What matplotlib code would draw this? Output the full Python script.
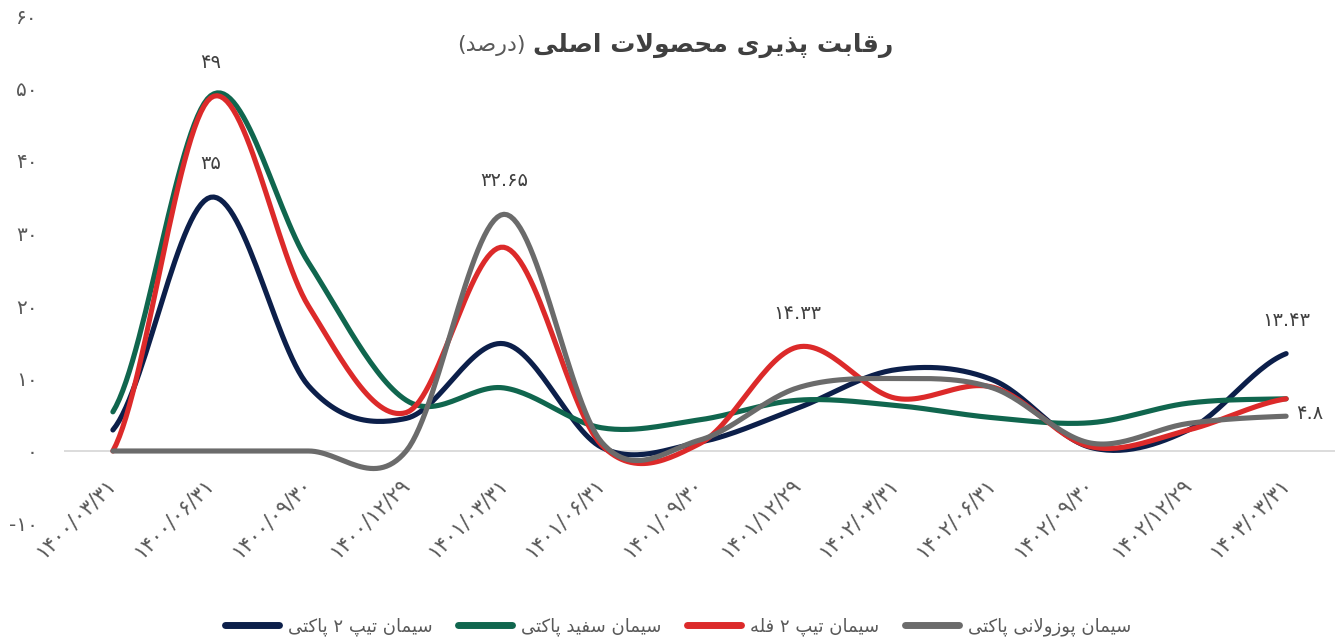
import numpy as np
import matplotlib.pyplot as plt

# chart data
dates = ['1400/03/31', '1400/06/31', '1400/09/30', '1400/12/29',
         '1401/03/31', '1401/06/31', '1401/09/30', '1401/12/29',
         '1402/03/31', '1402/06/31', '1402/09/30', '1402/12/29', '1403/03/31']

type2_pack = [2.9, 35, 9.0, 4.5, 14.8, 0.5, 1.2, 5.9, 11.2, 9.8, 0.5, 2.9, 13.43]
white_pack = [5.4, 49, 26.0, 7.0, 8.7, 3.2, 4.3, 7.0, 6.3, 4.6, 3.9, 6.6, 7.2]
type2_bulk = [0, 48.7, 20.0, 5.3, 28.1, 0.8, 1.0, 14.33, 7.3, 8.8, 0.6, 2.9, 7.2]
pozz_pack = [0, 0, 0, 0, 32.65, 1.2, 1.5, 8.7, 10.0, 8.7, 1.1, 3.8, 4.8]

names = ['سیمان تیپ ۲ پاکتی', 'سیمان سفید پاکتی', 'سیمان تیپ ۲ فله', 'سیمان پوزولانی پاکتی']
colors = ['#0c1f4a', '#10664e', '#dc2a2a', '#6b6b6b']
title_main = 'رقابت پذیری محصولات اصلی'
title_unit = '(درصد)'

# (series index, point index, label placement)
point_labels = [(1, 1, 'up'), (0, 1, 'up'), (3, 4, 'up'), (2, 7, 'up'), (0, 12, 'up'), (3, 12, 'right')]

yticks = [-10, 0, 10, 20, 30, 40, 50, 60]

# --- small persian helpers (matplotlib has no arabic shaping / bidi) ---
FORMS = {  # isolated, final, initial, medial
    'ا': ('\ufe8d', '\ufe8e'),
    'ب': ('\ufe8f', '\ufe90', '\ufe91', '\ufe92'),
    'پ': ('\ufb56', '\ufb57', '\ufb58', '\ufb59'),
    'ت': ('\ufe95', '\ufe96', '\ufe97', '\ufe98'),
    'ح': ('\ufea1', '\ufea2', '\ufea3', '\ufea4'),
    'د': ('\ufea9', '\ufeaa'),
    'ذ': ('\ufeab', '\ufeac'),
    'ر': ('\ufead', '\ufeae'),
    'ز': ('\ufeaf', '\ufeb0'),
    'س': ('\ufeb1', '\ufeb2', '\ufeb3', '\ufeb4'),
    'ص': ('\ufeb9', '\ufeba', '\ufebb', '\ufebc'),
    'ف': ('\ufed1', '\ufed2', '\ufed3', '\ufed4'),
    'ق': ('\ufed5', '\ufed6', '\ufed7', '\ufed8'),
    'ک': ('\ufb8e', '\ufb8f', '\ufb90', '\ufb91'),
    'ل': ('\ufedd', '\ufede', '\ufedf', '\ufee0'),
    'م': ('\ufee1', '\ufee2', '\ufee3', '\ufee4'),
    'ن': ('\ufee5', '\ufee6', '\ufee7', '\ufee8'),
    'ه': ('\ufee9', '\ufeea', '\ufeeb', '\ufeec'),
    'و': ('\ufeed', '\ufeee'),
    'ی': ('\ufbfc', '\ufbfd', '\ufbfe', '\ufbff'),
}


def dual(c):
    return c in FORMS and len(FORMS[c]) == 4


def shape(text):
    out = []
    i = 0
    while i < len(text):
        c = text[i]
        if c not in FORMS:
            out.append(c)
            i += 1
            continue
        prev = text[i-1] if i > 0 else ''
        nxt = text[i+1] if i + 1 < len(text) else ''
        if c == 'ل' and nxt == 'ا':
            out.append('\ufefc' if dual(prev) else '\ufefb')
            i += 2
            continue
        f = FORMS[c]
        a, b = dual(prev), dual(c) and nxt in FORMS
        out.append(f[3] if a and b else f[1] if a else f[2] if b else f[0])
        i += 1
    return ''.join(out)[::-1].translate(str.maketrans('()', ')('))


def fa_num(s):
    return str(s).translate(str.maketrans('0123456789', '۰۱۲۳۴۵۶۷۸۹'))


def smooth(y, k=30):
    # catmull-rom like the excel "smoothed line"
    y = np.asarray(y, float)
    p = np.concatenate([[y[0]], y, [y[-1]]])
    t = np.linspace(0, 1, k, endpoint=False)
    xs, ys = [], []
    for i in range(len(y) - 1):
        p0, p1, p2, p3 = p[i:i+4]
        m1, m2 = (p2 - p0) / 2, (p3 - p1) / 2
        h = (2*t**3 - 3*t**2 + 1) * p1 + (t**3 - 2*t**2 + t) * m1 \
            + (-2*t**3 + 3*t**2) * p2 + (t**3 - t**2) * m2
        xs.append(i + t)
        ys.append(h)
    xs.append([len(y) - 1])
    ys.append([y[-1]])
    return np.concatenate(xs), np.concatenate(ys)


plt.rcParams['font.family'] = ['DejaVu Sans']
txt = '#595959'

fig = plt.figure(figsize=(13.4, 6.39), dpi=100)
ax = fig.add_axes([64/1340, 1 - 523.5/639, 1271/1340, 507.5/639])

series = [type2_pack, white_pack, type2_bulk, pozz_pack]
for vals, name, col in zip(series, names, colors):
    sx, sy = smooth(vals)
    ax.plot(sx, sy, color=col, lw=3.7, solid_capstyle='round', label=shape(name))

for si, pi, where in point_labels:
    v = series[si][pi]
    if where == 'up':
        ax.annotate(fa_num(v), (pi, v), xytext=(0, 24), textcoords='offset points',
                    ha='center', va='center', fontsize=14, color='#404040')
    else:
        ax.annotate(fa_num(v), (pi, v), xytext=(7, 2), textcoords='offset points',
                    ha='left', va='center', fontsize=14, color='#404040')

ax.set_xlim(-0.5, 12.5)
ax.set_ylim(-10, 60)
ax.axhline(0, color='#d9d9d9', lw=1.3, zorder=0)
for s in ax.spines.values():
    s.set_visible(False)

ax.set_yticks(yticks)
ax.set_yticklabels([fa_num(v) for v in yticks], fontsize=14.5, color=txt)
ax.tick_params(axis='y', length=0, pad=19)

ax.spines['bottom'].set_position(('data', 0))
ax.set_xticks(range(len(dates)))
ax.set_xticklabels([fa_num(d) for d in dates], fontsize=15, color=txt,
                   rotation=45, ha='right', va='center', rotation_mode='anchor')
ax.tick_params(axis='x', length=0, pad=22)

# title: bold main part + regular unit part on its left
t_main = fig.text(893/1340, 1 - 45/639, shape(title_main), ha='right', va='center',
                  fontsize=18, fontweight='bold', color='#404040')
fig.canvas.draw()
bb = t_main.get_window_extent()
fig.text((bb.x0 - 7) / 1340, 1 - 45/639, shape(title_unit), ha='right', va='center',
         fontsize=16, color='#595959')

leg = ax.legend(loc='center', bbox_to_anchor=(678/1340, 12/639),
                bbox_transform=fig.transFigure, ncol=4, frameon=False,
                fontsize=13, handlelength=3.0, handletextpad=0.5, columnspacing=1.4)
for t in leg.get_texts():
    t.set_color(txt)
for ln in leg.get_lines():
    ln.set_linewidth(5)

fig.savefig('out.png', dpi=100)
